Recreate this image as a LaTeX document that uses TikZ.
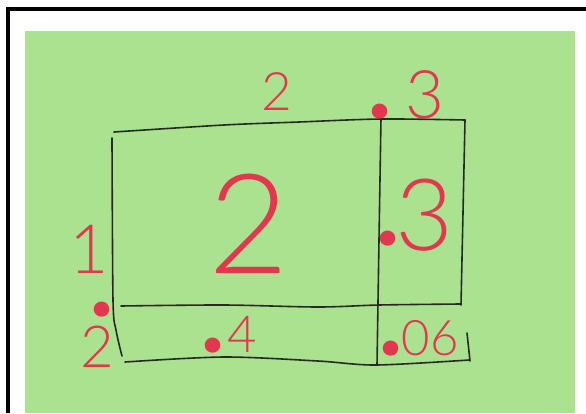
\documentclass[tikz,border=0pt]{standalone}
\usepackage{fontspec}
\setmainfont{Lato}[UprightFont={* Light}, BoldFont={* Black}]
\definecolor{paper}{HTML}{ABE28F}
\definecolor{marker}{HTML}{E2374F}
\definecolor{pen}{HTML}{262A22}
\tikzset{
  ink/.style={draw=pen, line width=1.6pt, line cap=round, line join=round},
  num/.style={text=marker, inner sep=0pt, anchor=base},
}
\newcommand\fs[1]{\fontsize{#1}{#1}\selectfont}
\newcommand\dotg{{\fs{88}\bfseries.}}
\newcommand\pre[1]{\llap{\dotg\kern#1pt}}
\begin{document}
\begin{tikzpicture}[x=1pt,y=-1pt]
\useasboundingbox (0,0) rectangle (586,413);
\fill[white] (0,0) rectangle (586,413);
% frame
\fill[black] (6,7) rectangle (586,11);
\fill[black] (6,7) rectangle (10,413);
% paper
\fill[paper] (25,31) rectangle (575,413);
% grid lines
\draw[ink] plot[smooth, tension=0.5] coordinates {(114,132) (224,125) (299,122) (381,119) (465,120)};
\draw[ink] plot[smooth, tension=0.5] coordinates {(112,138) (113,300) (116,330) (122,356)};
\draw[ink] plot[smooth, tension=0.5] coordinates {(121,306) (224,305) (318,307) (379,305) (460,304)};
\draw[ink] plot[smooth, tension=0.5] coordinates {(125,362) (224,357) (318,361) (376,365) (469,360)};
\draw[ink] plot[smooth, tension=0.5] coordinates {(381,118) (379,240) (377,365)};
\draw[ink] plot[smooth, tension=0.5] coordinates {(465,120) (461,305)};
\draw[ink] (467,333) -- (470,361);
% labels
\node[num, font=\fs{53}] (t2) at (277,110) {2};
\node[num, font=\fs{67}] (t3) at (425,118) {\pre{15.5}3};
\node[num, font=\fs{139}] (c2) at (249,273) {2};
\node[num, font=\fs{100}] (r3) at (424,250) {\llap{\raisebox{5pt}{\dotg}\kern-4pt}3};
\node[num, font=\fs{68}] (l1) at (89,273) {1};
\node[num, font=\fs{58}] (l2) at (97,367) {\rlap{\smash{\raisebox{51pt}{\kern11pt\dotg}}}2};
\node[num, font=\fs{51}] (b4) at (242,352) {\pre{4}4};
\node[num, font=\fs{49}] (s06) at (430,355) {\pre{0.5}06};
\end{tikzpicture}
\end{document}
